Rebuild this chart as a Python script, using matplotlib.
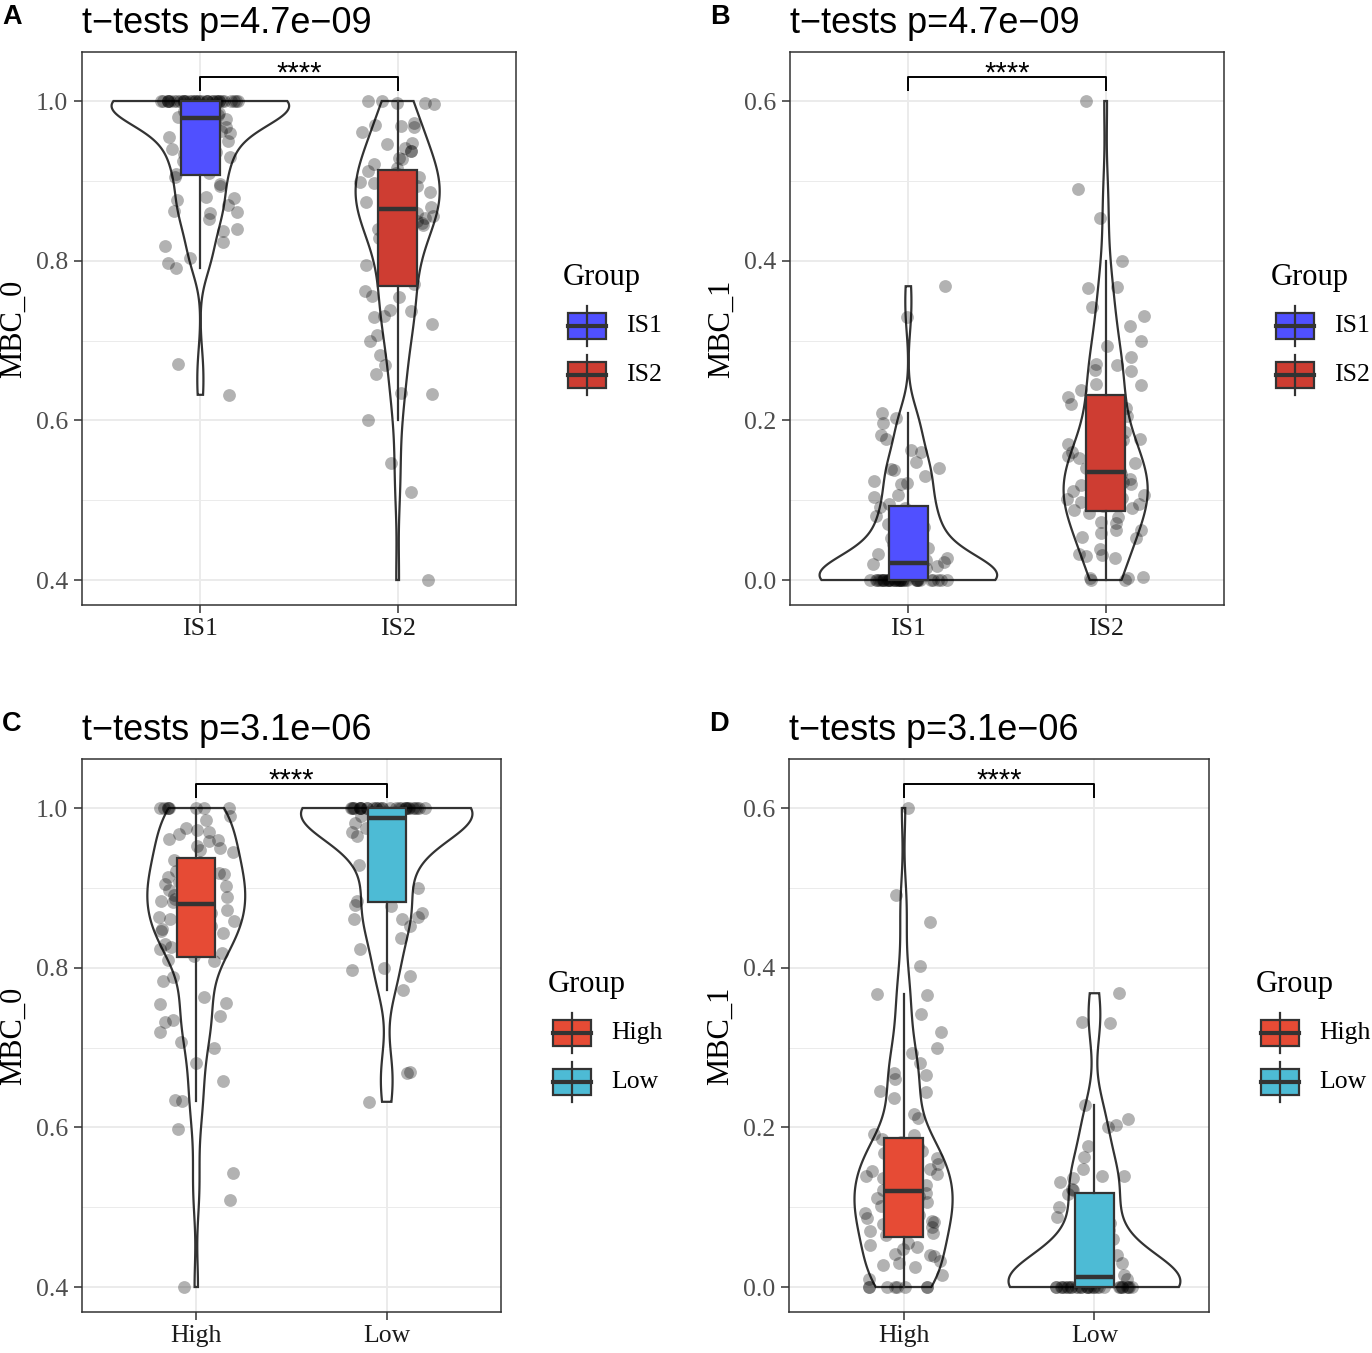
import numpy as np
import matplotlib
matplotlib.use("Agg")
import matplotlib.pyplot as plt
from matplotlib.patches import Rectangle
from matplotlib.lines import Line2D

# ---------------- data ----------------
groups_is = ["IS1", "IS2"]
groups_hl = ["High", "Low"]

mbc0_is1 = [1.0] * 35 + [
    0.99, 0.988, 0.985, 0.982, 0.98,
    0.977, 0.975, 0.972, 0.968, 0.965, 0.962, 0.96, 0.955, 0.95, 0.947,
    0.944, 0.94, 0.936, 0.934, 0.93, 0.925, 0.92, 0.915, 0.91, 0.908,
    0.905, 0.896, 0.894, 0.88, 0.878, 0.876, 0.87, 0.862, 0.861, 0.86,
    0.852, 0.84, 0.837, 0.823, 0.818, 0.803, 0.797, 0.791, 0.67, 0.632]
mbc0_is2 = [
    1.0, 1.0, 0.998, 0.998, 0.996, 0.972, 0.97, 0.969, 0.968, 0.961, 0.947,
    0.946, 0.941, 0.937, 0.937, 0.928, 0.927, 0.921, 0.916,
    0.912, 0.91, 0.907, 0.905, 0.902, 0.899, 0.899, 0.897, 0.894, 0.892,
    0.889, 0.886, 0.883, 0.881, 0.88, 0.877, 0.873, 0.869, 0.867,
    0.863, 0.86, 0.856, 0.854, 0.85, 0.847, 0.845, 0.84, 0.835, 0.83,
    0.829, 0.825, 0.823, 0.815, 0.805, 0.795, 0.785, 0.78, 0.771,
    0.762, 0.756, 0.755, 0.738, 0.737, 0.731, 0.73, 0.721, 0.707, 0.70,
    0.682, 0.669, 0.658, 0.634, 0.633, 0.6, 0.546, 0.51, 0.4]

mbc1_is1 = [0.0] * 35 + [
    0.01, 0.012, 0.015, 0.018, 0.02,
    0.023, 0.025, 0.028, 0.032, 0.035, 0.038, 0.04, 0.045, 0.05, 0.053,
    0.056, 0.06, 0.064, 0.066, 0.07, 0.075, 0.08, 0.085, 0.09, 0.092,
    0.095, 0.104, 0.106, 0.12, 0.122, 0.124, 0.13, 0.138, 0.139, 0.14,
    0.148, 0.16, 0.163, 0.177, 0.182, 0.197, 0.203, 0.209, 0.33, 0.368]
mbc1_is2 = [
    0.0, 0.0, 0.002, 0.002, 0.004, 0.028, 0.03, 0.031, 0.032, 0.039, 0.053,
    0.054, 0.059, 0.063, 0.063, 0.072, 0.073, 0.079, 0.084,
    0.088, 0.09, 0.093, 0.095, 0.098, 0.101, 0.101, 0.103, 0.106, 0.108,
    0.111, 0.114, 0.117, 0.119, 0.12, 0.123, 0.127, 0.131, 0.133,
    0.137, 0.14, 0.144, 0.146, 0.15, 0.153, 0.155, 0.16, 0.165, 0.17,
    0.171, 0.175, 0.177, 0.185, 0.195, 0.205, 0.215, 0.22, 0.229,
    0.238, 0.244, 0.245, 0.262, 0.263, 0.269, 0.27, 0.279, 0.293, 0.3,
    0.318, 0.331, 0.342, 0.366, 0.367, 0.4, 0.454, 0.49, 0.6]

mbc0_high = [1.0] * 8 + [
    0.99, 0.985, 0.975, 0.972, 0.97, 0.968, 0.961, 0.96, 0.959, 0.952,
    0.95, 0.948, 0.945,
    0.935, 0.932, 0.93, 0.927, 0.925, 0.921, 0.919, 0.917, 0.913, 0.91,
    0.907, 0.905, 0.902, 0.899, 0.897, 0.894, 0.891, 0.888, 0.886, 0.883, 0.882,
    0.878, 0.875, 0.872, 0.868, 0.865, 0.864, 0.861, 0.859, 0.855, 0.852,
    0.848, 0.846, 0.843, 0.839, 0.835, 0.832, 0.83, 0.826, 0.823, 0.818, 0.815,
    0.81, 0.808, 0.788, 0.783, 0.763, 0.756, 0.755, 0.739, 0.734, 0.732,
    0.72, 0.707, 0.70, 0.681, 0.658, 0.634, 0.633, 0.598, 0.543, 0.509, 0.4]
mbc0_low = [1.0] * 30 + [
    0.99, 0.99,
    0.985, 0.981, 0.977, 0.975, 0.97, 0.965, 0.96, 0.955, 0.948, 0.94,
    0.933, 0.928, 0.92, 0.912, 0.9, 0.883,
    0.879, 0.877, 0.868, 0.863, 0.861, 0.861, 0.852, 0.837, 0.823, 0.8,
    0.797, 0.79, 0.772, 0.669, 0.668, 0.632]

mbc1_high = [0.0] * 8 + [
    0.01, 0.015, 0.025, 0.028, 0.03, 0.032, 0.039, 0.04, 0.041, 0.048,
    0.05, 0.052, 0.055,
    0.065, 0.068, 0.07, 0.073, 0.075, 0.079, 0.081, 0.083, 0.087, 0.09,
    0.093, 0.095, 0.098, 0.101, 0.103, 0.106, 0.109, 0.112, 0.114, 0.117, 0.118,
    0.122, 0.125, 0.128, 0.132, 0.135, 0.136, 0.139, 0.141, 0.145, 0.148,
    0.152, 0.154, 0.157, 0.161, 0.165, 0.168, 0.17, 0.174, 0.177, 0.182, 0.185,
    0.19, 0.192, 0.212, 0.217, 0.237, 0.244, 0.245, 0.261, 0.266, 0.268,
    0.28, 0.293, 0.3, 0.319, 0.342, 0.366, 0.367, 0.402, 0.457, 0.491, 0.6]
mbc1_low = [0.0] * 30 + [
    0.01, 0.01,
    0.015, 0.019, 0.023, 0.025, 0.03, 0.035, 0.04, 0.045, 0.052, 0.06,
    0.067, 0.072, 0.08, 0.088, 0.1, 0.117,
    0.121, 0.123, 0.132, 0.137, 0.139, 0.139, 0.148, 0.163, 0.177, 0.2,
    0.203, 0.21, 0.228, 0.331, 0.332, 0.368]

titles = ["t\u2212tests p=4.7e\u221209", "t\u2212tests p=4.7e\u221209",
          "t\u2212tests p=3.1e\u221206", "t\u2212tests p=3.1e\u221206"]
letters = ["A", "B", "C", "D"]
ylabels = ["MBC_0", "MBC_1", "MBC_0", "MBC_1"]
ticks_0 = [0.4, 0.6, 0.8, 1.0]
ticks_1 = [0.0, 0.2, 0.4, 0.6]
sig_label = "****"

# ---------------- styles ----------------
c_is1, c_is2 = "#5050FF", "#CE3D32"
c_high, c_low = "#E64B35", "#4DBBD5"
dark = "#333333"

plt.rcParams["font.family"] = ["Liberation Serif", "DejaVu Serif"]
SANS = ["Liberation Sans", "DejaVu Sans"]

W, H = 1372, 1353
fig = plt.figure(figsize=(W / 100, H / 100), dpi=100)


def fx(px):
    return px / W


def fy(py):
    return 1 - py / H


def nrd0(x):
    x = np.asarray(x, float)
    hi = np.std(x, ddof=1)
    q75, q25 = np.percentile(x, [75, 25])
    lo = min(hi, (q75 - q25) / 1.34)
    if lo <= 0:
        lo = hi if hi > 0 else 1.0
    return 0.9 * lo * len(x) ** (-0.2)


def kde(x):
    x = np.asarray(x, float)
    bw = nrd0(x)
    grid = np.linspace(x.min(), x.max(), 512)
    z = (grid[:, None] - x[None, :]) / bw
    dens = np.exp(-0.5 * z ** 2).sum(axis=1) / (len(x) * bw * np.sqrt(2 * np.pi))
    return grid, dens


panels = [
    dict(data=[mbc0_is1, mbc0_is2], cats=groups_is, cols=[c_is1, c_is2],
         ticks=ticks_0, ylim=(0.3687, 1.0614), box=(82, 52, 516, 605), seed=3),
    dict(data=[mbc1_is1, mbc1_is2], cats=groups_is, cols=[c_is1, c_is2],
         ticks=ticks_1, ylim=(-0.0313, 0.6614), box=(790, 52, 1224, 605), seed=8),
    dict(data=[mbc0_high, mbc0_low], cats=groups_hl, cols=[c_high, c_low],
         ticks=ticks_0, ylim=(0.3687, 1.0614), box=(82, 759, 501, 1312), seed=11),
    dict(data=[mbc1_high, mbc1_low], cats=groups_hl, cols=[c_high, c_low],
         ticks=ticks_1, ylim=(-0.0313, 0.6614), box=(789, 759, 1209, 1312), seed=5),
]

for i, p in enumerate(panels):
    l, t, r, b = p["box"]
    ax = fig.add_axes([fx(l), fy(b), fx(r - l), (b - t) / H])
    ax.set_xlim(0.4, 2.6)
    ax.set_ylim(*p["ylim"])
    ax.set_axisbelow(True)

    # grid (theme_bw)
    yt = p["ticks"]
    minor = [(yt[k] + yt[k + 1]) / 2 for k in range(len(yt) - 1)]
    for y in yt:
        ax.axhline(y, color="#EBEBEB", lw=1.4, zorder=0)
    for y in minor:
        ax.axhline(y, color="#EBEBEB", lw=0.7, zorder=0)
    for xx in (1, 2):
        ax.axvline(xx, color="#EBEBEB", lw=1.4, zorder=0)

    # violins (scale = "area")
    dens_all = [kde(v) for v in p["data"]]
    maxd = max(d.max() for _, d in dens_all)
    for k, (grid, dens) in enumerate(dens_all):
        pos = k + 1
        hw = dens / maxd * 0.45
        xs = np.concatenate([pos + hw, (pos - hw)[::-1]])
        ys = np.concatenate([grid, grid[::-1]])
        ax.fill(xs, ys, facecolor="white", edgecolor=dark, lw=1.6, zorder=2)

    # jittered points
    rng = np.random.default_rng(p["seed"])
    for k, v in enumerate(p["data"]):
        v = np.asarray(v, float)
        jx = rng.uniform(-0.2, 0.2, len(v))
        ax.scatter(k + 1 + jx, v, s=85, color="black", alpha=0.3, lw=0, zorder=3)

    # boxplots
    bp = ax.boxplot(p["data"], positions=[1, 2], widths=0.2, patch_artist=True,
                    showfliers=False, showcaps=False, whis=1.5,
                    boxprops=dict(edgecolor=dark, linewidth=1.6),
                    medianprops=dict(color=dark, linewidth=3.2),
                    whiskerprops=dict(color=dark, linewidth=1.6),
                    zorder=4)
    for patch, c in zip(bp["boxes"], p["cols"]):
        patch.set_facecolor(c)

    # significance bracket
    allv = np.concatenate([np.asarray(v, float) for v in p["data"]])
    dmax, dmin = allv.max(), allv.min()
    rng_d = dmax - dmin
    yb = dmax + 0.05 * rng_d
    tip = 0.03 * rng_d
    ax.plot([1, 1, 2, 2], [yb - tip, yb, yb, yb - tip], color="black", lw=1.4,
            zorder=5, solid_capstyle="butt")
    ax.annotate(sig_label, xy=(1.5, yb), xytext=(0, -3.5), textcoords="offset points",
                ha="center", va="baseline", fontsize=21, family=SANS, zorder=6)

    # axes styling
    ax.set_xticks([1, 2])
    ax.set_xticklabels(p["cats"])
    ax.set_yticks(yt)
    ax.set_yticklabels([f"{y:.1f}" for y in yt])
    ax.tick_params(axis="both", direction="out", length=6, width=1.1, color=dark)
    ax.tick_params(axis="y", labelsize=18.5, labelcolor="#4D4D4D", pad=4)
    ax.tick_params(axis="x", labelsize=18.5, labelcolor="#1A1A1A", pad=3.5)
    for s in ax.spines.values():
        s.set_color(dark)
        s.set_linewidth(1.1)

    # y label
    fig.text(fx(l - 69), fy((t + b) / 2), ylabels[i], rotation=90, ha="center",
             va="center", fontsize=22)
    # title and panel letter
    fig.text(fx(l), fy(t - 19), titles[i], ha="left", va="baseline",
             fontsize=26, family=SANS)
    fig.text(fx(l - 80), fy(t - 28), letters[i], ha="left", va="baseline",
             fontsize=19.5, fontweight="bold", family=SANS)

    # legend (boxplot glyph keys)
    fig.text(fx(r + 47), fy(t + 233), "Group", ha="left", va="baseline", fontsize=22)
    for k, (lab, c) in enumerate(zip(p["cats"], p["cols"])):
        cy = t + 274 + 49 * k
        kx0, kx1 = r + 51.5, r + 89.5
        cx = (kx0 + kx1) / 2
        fig.add_artist(Line2D([fx(cx), fx(cx)], [fy(cy - 20), fy(cy + 20)],
                              color=dark, lw=1.6, transform=fig.transFigure))
        fig.add_artist(Rectangle((fx(kx0), fy(cy + 13)), fx(kx1 - kx0), 26 / H,
                                 facecolor=c, edgecolor=dark, lw=1.6,
                                 transform=fig.transFigure))
        fig.add_artist(Line2D([fx(kx0), fx(kx1)], [fy(cy), fy(cy)],
                              color=dark, lw=3.0, transform=fig.transFigure))
        fig.text(fx(r + 110), fy(cy), lab, ha="left", va="center", fontsize=18.5)

fig.savefig("out.png", dpi=100, facecolor="white")
